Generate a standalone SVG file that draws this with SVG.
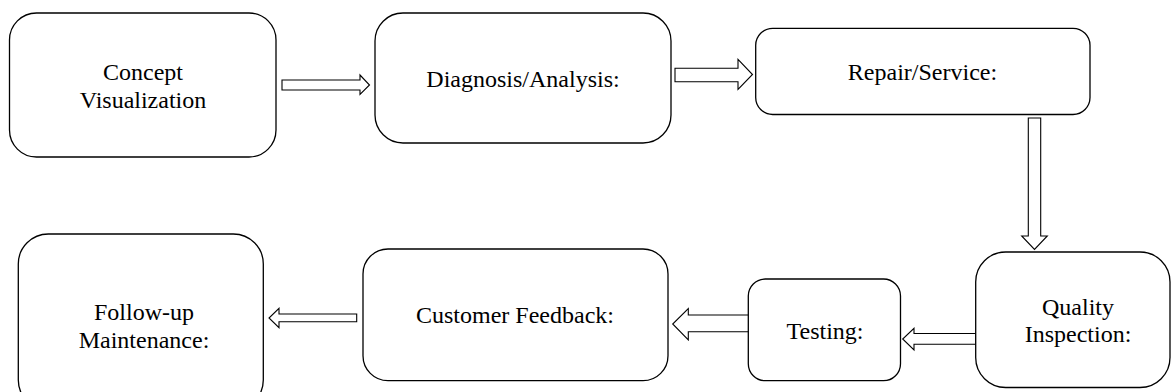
<svg xmlns="http://www.w3.org/2000/svg" width="1173" height="392" viewBox="0 0 1173 392">
<style>
.box{fill:#fff;stroke:#000;stroke-width:1.3}
.arr{fill:#fff;stroke:#000;stroke-width:1.1;stroke-linejoin:miter}
.t{font-family:"Liberation Serif","Times New Roman",serif;font-size:24px;fill:#000;text-anchor:middle}
</style>
<rect width="1173" height="392" fill="#fff"/>
<g id="connectors">
<polygon class="arr" points="282,80 360,80 360,75 369.5,85 360,94.5 360,90 282,90"/>
<polygon class="arr" points="675,68.3 738,68.3 738,59.3 752.5,74.5 738,89.3 738,81.7 675,81.7"/>
<polygon class="arr" points="1028.3,118 1040.7,118 1040.7,236 1047.3,236 1034.5,249.5 1021.7,236 1028.3,236"/>
<polygon class="arr" points="976,333.5 914,333.5 914,328.3 902.7,339 914,350 914,344.3 976,344.3"/>
<polygon class="arr" points="750.7,315 688.3,315 688.3,308.5 672.7,324 688.3,340 688.3,331.7 750.7,331.7"/>
<polygon class="arr" points="356.7,314 279,314 279,308.3 269,318 279,327.7 279,321.7 356.7,321.7"/>
</g>
<g id="concept">
<rect class="box" x="9.5" y="13" width="266.5" height="144" rx="27"/>
<text class="t" x="143" y="80">Concept</text>
<text class="t" x="143" y="108">Visualization</text>
</g>
<g id="diagnosis">
<rect class="box" x="375" y="13" width="296" height="130" rx="28"/>
<text class="t" x="523" y="87">Diagnosis/Analysis:</text>
</g>
<g id="repair">
<rect class="box" x="755.7" y="28.3" width="334.3" height="86.2" rx="17"/>
<text class="t" x="922.5" y="80">Repair/Service:</text>
</g>
<g id="quality">
<rect class="box" x="975.7" y="252" width="194.3" height="135.5" rx="30"/>
<text class="t" x="1078" y="315">Quality</text>
<text class="t" x="1078" y="341.7">Inspection:</text>
</g>
<g id="testing">
<rect class="box" x="748.3" y="279" width="152.2" height="101.7" rx="17"/>
<text class="t" x="825" y="339.3">Testing:</text>
</g>
<g id="feedback">
<rect class="box" x="363" y="249" width="305" height="131.7" rx="25"/>
<text class="t" x="515" y="323.3">Customer Feedback:</text>
</g>
<g id="followup">
<rect class="box" x="18.3" y="234" width="245" height="176" rx="30"/>
<text class="t" x="144" y="320">Follow-up</text>
<text class="t" x="144" y="348.3">Maintenance:</text>
</g>
</svg>
